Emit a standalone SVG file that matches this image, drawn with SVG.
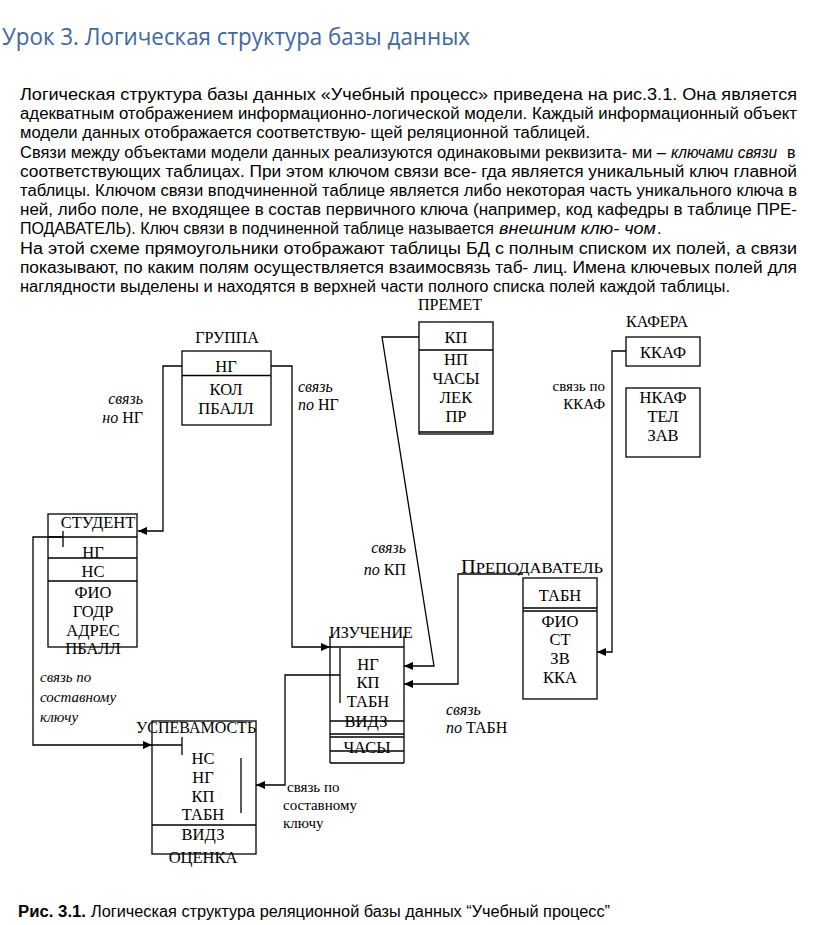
<svg xmlns="http://www.w3.org/2000/svg" width="816" height="925" viewBox="0 0 816 925">
<style>
.p{font-family:"Liberation Sans Narrow","Liberation Sans",Arial,sans-serif;font-size:16px;fill:#000}
.i{font-style:italic}
.t{font-family:"Open Sans","Noto Sans",sans-serif;font-size:24px;fill:#41689e}
.f{font-family:"Liberation Serif","Times New Roman",serif;font-size:16.5px;fill:#000;text-anchor:middle}
.l{font-family:"Liberation Serif","Times New Roman",serif;font-size:16px;fill:#000}
.s{font-family:"Liberation Serif","Times New Roman",serif;font-size:15px;fill:#000}
.bx{fill:none;stroke:#000;stroke-width:1.3}
.ln{fill:none;stroke:#000;stroke-width:1.3}
.cn{fill:none;stroke:#000;stroke-width:1.3}
</style>
<defs>
<marker id="arr" viewBox="0 0 10 10" refX="10" refY="5" markerWidth="10" markerHeight="9" markerUnits="userSpaceOnUse" orient="auto">
<path d="M0,0.5 L10,5 L0,9.5 z" fill="#000"/>
</marker>
</defs>
<rect width="816" height="925" fill="#fff"/>

<text class="t" x="2" y="45" textLength="468" lengthAdjust="spacingAndGlyphs">Урок 3. Логическая структура базы данных</text>

<g id="paragraph">
<text class="p" x="20" y="100" textLength="777" lengthAdjust="spacingAndGlyphs">Логическая структура базы данных «Учебный процесс» приведена на рис.3.1. Она является</text>
<text class="p" x="20" y="119.2" textLength="777" lengthAdjust="spacingAndGlyphs">адекватным отображением информационно-логической модели. Каждый информационный объект</text>
<text class="p" x="20" y="138.4" textLength="570" lengthAdjust="spacingAndGlyphs">модели данных отображается соответствую- щей реляционной таблицей.</text>
<text class="p" x="20" y="157.6" textLength="646" lengthAdjust="spacingAndGlyphs">Связи между объектами модели данных реализуются одинаковыми реквизита- ми –</text>
<text class="p i" x="671" y="157.6" textLength="106" lengthAdjust="spacingAndGlyphs">ключами связи</text>
<text class="p" x="787" y="157.6">в</text>
<text class="p" x="20" y="176.8" textLength="777" lengthAdjust="spacingAndGlyphs">соответствующих таблицах. При этом ключом связи все- гда является уникальный ключ главной</text>
<text class="p" x="20" y="196" textLength="777" lengthAdjust="spacingAndGlyphs">таблицы. Ключом связи вподчиненной таблице является либо некоторая часть уникального ключа в</text>
<text class="p" x="20" y="215.2" textLength="777" lengthAdjust="spacingAndGlyphs">ней, либо поле, не входящее в состав первичного ключа (например, код кафедры в таблице ПРЕ-</text>
<text class="p" x="20" y="234.4" textLength="474" lengthAdjust="spacingAndGlyphs">ПОДАВАТЕЛЬ). Ключ связи в подчиненной таблице называется</text>
<text class="p i" x="499" y="234.4" textLength="157" lengthAdjust="spacingAndGlyphs">внешним клю- чом</text>
<text class="p" x="657" y="234.4">.</text>
<text class="p" x="20" y="253.6" textLength="777" lengthAdjust="spacingAndGlyphs">На этой схеме прямоугольники отображают таблицы БД с полным списком их полей, а связи</text>
<text class="p" x="20" y="272.8" textLength="777" lengthAdjust="spacingAndGlyphs">показывают, по каким полям осуществляется взаимосвязь таб- лиц. Имена ключевых полей для</text>
<text class="p" x="20" y="292" textLength="710" lengthAdjust="spacingAndGlyphs">наглядности выделены и находятся в верхней части полного списка полей каждой таблицы.</text>
</g>

<g id="connectors">
<path class="cn" d="M182,366 H163 V531 H138" marker-end="url(#arr)"/>
<path class="cn" d="M271,366 H292 V647 H330" marker-end="url(#arr)"/>
<path class="cn" d="M419,337 H382 L434,666 H404" marker-end="url(#arr)"/>
<path class="cn" d="M626,351 H612 V652 H597" marker-end="url(#arr)"/>
<path class="cn" d="M523,574 H458 V684 H404" marker-end="url(#arr)"/>
<path class="cn" d="M63,531 V547 M63,537 H33 V745 H152" marker-end="url(#arr)"/>
<path class="cn" d="M152,745 H182 M182,737 V755"/>
<path class="cn" d="M340,648 V703 M340,675 H285 V785 H256" marker-end="url(#arr)"/>
</g>

<g id="gruppa">
<text class="l" x="227" y="343" text-anchor="middle">ГРУППА</text>
<rect class="bx" x="182" y="351" width="89" height="74"/>
<line class="ln" x1="182" y1="375.5" x2="271" y2="375.5" stroke-width="1.8"/>
<text class="f" x="226" y="372">НГ</text>
<text class="f" x="226" y="395">КОЛ</text>
<text class="f" x="226" y="414">ПБАЛЛ</text>
</g>

<g id="premet">
<text class="l" x="450" y="310" text-anchor="middle">ПРЕМЕТ</text>
<rect class="bx" x="419" y="322" width="74" height="112"/>
<line class="ln" x1="419" y1="350" x2="493" y2="350" stroke-width="2.2"/>
<line class="ln" x1="419" y1="432" x2="493" y2="432" stroke-width="1.3"/>
<text class="f" x="456" y="343">КП</text>
<text class="f" x="456" y="365">НП</text>
<text class="f" x="456" y="384">ЧАСЫ</text>
<text class="f" x="456" y="403">ЛЕК</text>
<text class="f" x="456" y="422">ПР</text>
</g>

<g id="kafera">
<text class="l" x="657" y="327" text-anchor="middle">КАФЕРА</text>
<rect class="bx" x="626" y="337" width="74" height="29"/>
<text class="f" x="663" y="358">ККАФ</text>
<rect class="bx" x="626" y="388" width="74" height="69"/>
<text class="f" x="663" y="403">НКАФ</text>
<text class="f" x="663" y="422">ТЕЛ</text>
<text class="f" x="663" y="441">ЗАВ</text>
</g>

<g id="student">
<rect class="bx" x="48" y="514" width="89" height="133"/>
<line class="ln" x1="48" y1="537" x2="137" y2="537"/>
<line class="ln" x1="48" y1="558" x2="137" y2="558"/>
<line class="ln" x1="48" y1="581" x2="137" y2="581"/>
<text class="f" x="98" y="528">СТУДЕНТ</text>
<text class="f" x="93" y="558">НГ</text>
<text class="f" x="93" y="577">НС</text>
<text class="f" x="93" y="598">ФИО</text>
<text class="f" x="93" y="617">ГОДР</text>
<text class="f" x="93" y="636">АДРЕС</text>
<text class="f" x="93" y="654">ПБАЛЛ</text>
</g>

<g id="prepodavatel">
<text class="l" x="461" y="573" textLength="142" lengthAdjust="spacingAndGlyphs"><tspan font-size="19">П</tspan><tspan font-size="15.5">РЕПОДАВАТЕЛЬ</tspan></text>
<rect class="bx" x="523" y="578" width="74" height="121"/>
<line class="ln" x1="523" y1="608" x2="597" y2="608"/>
<line class="ln" x1="523" y1="611" x2="597" y2="611"/>
<text class="f" x="560" y="601">ТАБН</text>
<text class="f" x="560" y="627">ФИО</text>
<text class="f" x="560" y="645">СТ</text>
<text class="f" x="560" y="664">ЗВ</text>
<text class="f" x="560" y="683">ККА</text>
</g>

<g id="izuchenie">
<line class="ln" x1="330" y1="636" x2="330" y2="763"/>
<line class="ln" x1="404" y1="636" x2="404" y2="763"/>
<line class="ln" x1="330" y1="647" x2="404" y2="647"/>
<line class="ln" x1="330" y1="763" x2="404" y2="763"/>
<text class="l" x="371" y="638" text-anchor="middle">ИЗУЧЕНИЕ</text>
<text class="f" x="368" y="670">НГ</text>
<text class="f" x="368" y="688">КП</text>
<text class="f" x="368" y="707">ТАБН</text>
<text class="f" x="366" y="727">ВИДЗ</text>
<text class="f" x="367" y="753">ЧАСЫ</text>
<line class="ln" x1="330" y1="721" x2="404" y2="721"/>
<line class="ln" x1="330" y1="734" x2="404" y2="734"/>
<line class="ln" x1="330" y1="737" x2="404" y2="737"/>
<line class="ln" x1="330" y1="751" x2="404" y2="751"/>
</g>

<g id="uspevamost">
<rect class="bx" x="152" y="721" width="104" height="133"/>
<line class="ln" x1="152" y1="825" x2="256" y2="825"/>
<line class="ln" x1="241" y1="758" x2="241" y2="813"/>
<text class="l" x="196" y="733" text-anchor="middle">УСПЕВАМОСТЬ</text>
<text class="f" x="203" y="764">НС</text>
<text class="f" x="203" y="783">НГ</text>
<text class="f" x="203" y="802">КП</text>
<text class="f" x="203" y="820">ТАБН</text>
<text class="f" x="203" y="840">ВИДЗ</text>
<text class="f" x="203" y="863">ОЦЕНКА</text>
</g>

<g id="labels">
<text class="l" x="143" y="404" text-anchor="end"><tspan class="i">связь</tspan></text>
<text class="l" x="143" y="423" text-anchor="end"><tspan class="i">но</tspan> НГ</text>
<text class="l" x="298" y="392"><tspan class="i">связь</tspan></text>
<text class="l" x="298" y="410"><tspan class="i">по</tspan> НГ</text>
<text class="s" x="605" y="391" text-anchor="end">связь по</text>
<text class="s" x="605" y="409" text-anchor="end">ККАФ</text>
<text class="l" x="406" y="553" text-anchor="end" font-size="17"><tspan class="i">связь</tspan></text>
<text class="l" x="406" y="575" text-anchor="end" font-size="17"><tspan class="i">по</tspan> КП</text>
<text class="l" x="446" y="715"><tspan class="i">связь</tspan></text>
<text class="l" x="446" y="733"><tspan class="i">по</tspan> ТАБН</text>
<text class="s i" x="40" y="682">связь по</text>
<text class="s i" x="40" y="702">составному</text>
<text class="s i" x="40" y="722">ключу</text>
<text class="s" x="287" y="792">связь по</text>
<text class="s" x="283" y="810">составному</text>
<text class="s" x="283" y="828">ключу</text>
</g>

<g id="caption">
<text class="p" x="18" y="917" font-weight="bold" textLength="68" lengthAdjust="spacingAndGlyphs">Рис. 3.1.</text>
<text class="p" x="91" y="917" textLength="519" lengthAdjust="spacingAndGlyphs">Логическая структура реляционной базы данных “Учебный процесс”</text>
</g>
</svg>
